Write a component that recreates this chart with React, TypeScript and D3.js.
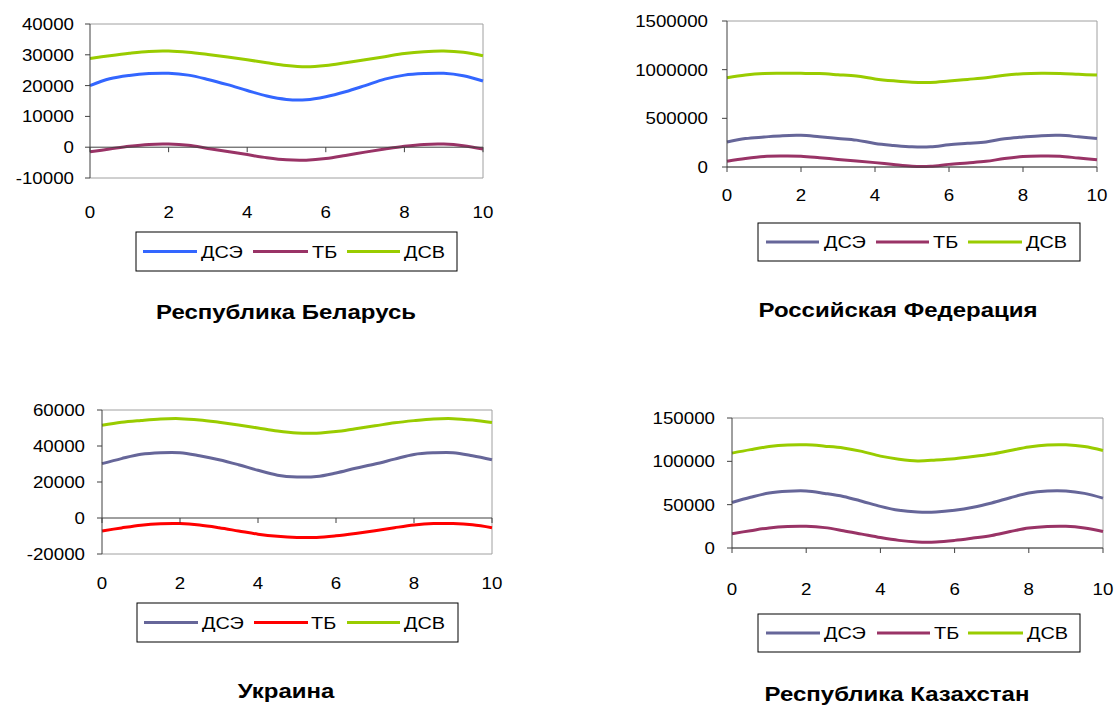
import React from 'react';
import * as d3 from 'd3';

const xs = [0, 0.5, 1, 1.5, 2, 2.5, 3, 3.5, 4, 4.5, 5, 5.5, 6, 6.5, 7, 7.5, 8, 8.5, 9, 9.5, 10];
const xTicks = [0, 2, 4, 6, 8, 10];
const seriesNames = ['ДСЭ', 'ТБ', 'ДСВ'];

// Республика Беларусь
const belarusDSE = [20000, 22200, 23300, 23900, 24000, 23400, 22000, 20300, 18400, 16600, 15500, 15400, 16400, 18000, 20000, 22100, 23400, 23900, 24000, 23200, 21500];
const belarusTB = [-1500, -600, 300, 900, 1000, 600, -400, -1400, -2400, -3400, -4100, -4200, -3700, -2700, -1600, -600, 300, 900, 1000, 500, -600];
const belarusDSV = [28800, 29700, 30500, 31100, 31200, 30800, 30100, 29300, 28400, 27400, 26500, 26100, 26500, 27400, 28400, 29400, 30400, 31000, 31200, 30800, 29700];
const belarusYTicks = [-10000, 0, 10000, 20000, 30000, 40000];

// Российская Федерация
const russiaDSE = [257000, 292000, 308000, 322000, 325000, 310000, 293000, 276000, 242000, 222000, 207000, 207000, 228000, 243000, 258000, 290000, 308000, 322000, 325000, 310000, 292000];
const russiaTB = [60000, 88000, 108000, 112000, 110000, 95000, 78000, 62000, 45000, 25000, 8000, 8000, 27000, 42000, 58000, 87000, 107000, 112000, 110000, 92000, 75000];
const russiaDSV = [917000, 945000, 960000, 962000, 962000, 960000, 948000, 934000, 905000, 885000, 870000, 868000, 883000, 900000, 917000, 942000, 958000, 962000, 960000, 952000, 944000];
const russiaYTicks = [0, 500000, 1000000, 1500000];

// Украина
const ukraineDSE = [30200, 33000, 35400, 36300, 36300, 34600, 32400, 29600, 26500, 23800, 22800, 23000, 25000, 27600, 30000, 32700, 35300, 36200, 36300, 34600, 32400];
const ukraineTB = [-7200, -5500, -4000, -3200, -3100, -3900, -5400, -7200, -9000, -10200, -10800, -10800, -9900, -8600, -7100, -5400, -3900, -3100, -3100, -3800, -5400];
const ukraineDSV = [51500, 53200, 54200, 55000, 55200, 54500, 53200, 51700, 50000, 48300, 47200, 47100, 48000, 49600, 51200, 52900, 54100, 55000, 55200, 54400, 53000];
const ukraineYTicks = [-20000, 0, 20000, 40000, 60000];

// Республика Казахстан
const kazDSE = [52500, 58500, 63500, 65500, 65800, 63000, 59500, 54000, 48000, 43500, 41500, 41500, 43500, 47000, 52000, 58000, 63500, 65800, 65800, 63000, 57500];
const kazTB = [16500, 20000, 23200, 24800, 25000, 23500, 20000, 16000, 12000, 8800, 7000, 7000, 8800, 11500, 14500, 19000, 23000, 24800, 25000, 23000, 19000];
const kazDSV = [109500, 113500, 117000, 118800, 119000, 117500, 115500, 111500, 106000, 102500, 100500, 101500, 103000, 105500, 108500, 112500, 116500, 118800, 119000, 117000, 112500];
const kazYTicks = [0, 50000, 100000, 150000];

const FONT = 'Liberation Sans, Arial, sans-serif';
const SX = 1.17;

function T({ x, y, anchor = 'start', size = 16, weight = 400, children }: any) {
  return (
    <text
      transform={`translate(${x},${y}) scale(${SX},1)`}
      textAnchor={anchor}
      fontSize={size}
      fontWeight={weight}
      fontFamily={FONT}
      fill="#000"
    >
      {children}
    </text>
  );
}

type PanelCfg = {
  title: string;
  series: number[][];
  colors: string[];
  yTicks: number[];
  plot: { l: number; r: number; t: number; b: number };
  xLabelY: number;
  yLabelRight: number;
  legend: { l: number; r: number; t: number; b: number; items: number[][] };
  titlePos: { x: number; y: number };
};

function Panel({ cfg }: { cfg: PanelCfg }) {
  const { plot } = cfg;
  const x = d3.scaleLinear().domain([0, 10]).range([plot.l, plot.r]);
  const y = d3
    .scaleLinear()
    .domain([d3.min(cfg.yTicks)!, d3.max(cfg.yTicks)!])
    .range([plot.b, plot.t]);
  const line = d3
    .line<number>()
    .x((_, i) => x(xs[i]))
    .y((d) => y(d))
    .curve(d3.curveCatmullRom.alpha(0.5));
  const y0 = y(0);
  const axisCol = '#404040';
  const borderCol = '#a0a0a0';
  const ly = (cfg.legend.t + cfg.legend.b) / 2;
  return (
    <g>
      {/* plot border */}
      <line x1={plot.l} x2={plot.r} y1={plot.t} y2={plot.t} stroke={borderCol} />
      <line x1={plot.r} x2={plot.r} y1={plot.t} y2={plot.b} stroke={borderCol} />
      <line x1={plot.l} x2={plot.r} y1={plot.b} y2={plot.b} stroke={borderCol} />
      {/* series */}
      {cfg.series.map((s, i) => (
        <path key={i} d={line(s) || ''} fill="none" stroke={cfg.colors[i]} strokeWidth={3} strokeLinejoin="round" />
      ))}
      {/* y axis */}
      <line x1={plot.l} x2={plot.l} y1={plot.t} y2={plot.b} stroke={axisCol} />
      {cfg.yTicks.map((t) => (
        <g key={t}>
          <line x1={plot.l - 5} x2={plot.l} y1={y(t)} y2={y(t)} stroke={axisCol} />
          <T x={cfg.yLabelRight} y={y(t) + 6} anchor="end">
            {t}
          </T>
        </g>
      ))}
      {/* x axis at 0 */}
      <line x1={plot.l} x2={plot.r} y1={y0} y2={y0} stroke={axisCol} />
      {xTicks.map((t) => (
        <g key={t}>
          <line x1={x(t)} x2={x(t)} y1={y0} y2={y0 + 5} stroke={axisCol} />
          <T x={x(t)} y={cfg.xLabelY} anchor="middle">
            {t}
          </T>
        </g>
      ))}
      {/* legend */}
      <rect
        x={cfg.legend.l}
        y={cfg.legend.t}
        width={cfg.legend.r - cfg.legend.l}
        height={cfg.legend.b - cfg.legend.t}
        fill="#fff"
        stroke="#000"
      />
      {cfg.legend.items.map((it, i) => (
        <g key={i}>
          <line x1={it[0]} x2={it[1]} y1={ly} y2={ly} stroke={cfg.colors[i]} strokeWidth={3} />
          <T x={it[2]} y={ly + 6} size={17}>
            {seriesNames[i]}
          </T>
        </g>
      ))}
      <T x={cfg.titlePos.x} y={cfg.titlePos.y} anchor="middle" size={20.5} weight={700}>
        {cfg.title}
      </T>
    </g>
  );
}

const panels: PanelCfg[] = [
  {
    title: 'Республика Беларусь',
    series: [belarusDSE, belarusTB, belarusDSV],
    colors: ['#3366ff', '#993366', '#99cc00'],
    yTicks: belarusYTicks,
    plot: { l: 90, r: 483, t: 24, b: 178 },
    xLabelY: 218,
    yLabelRight: 74,
    legend: { l: 136, r: 457, t: 232, b: 271, items: [[143, 197, 201], [253, 308, 312], [347, 400, 404]] },
    titlePos: { x: 286, y: 319 },
  },
  {
    title: 'Российская  Федерация',
    series: [russiaDSE, russiaTB, russiaDSV],
    colors: ['#666699', '#993366', '#99cc00'],
    yTicks: russiaYTicks,
    plot: { l: 727, r: 1097, t: 21, b: 167 },
    xLabelY: 201,
    yLabelRight: 708,
    legend: { l: 758, r: 1080, t: 223, b: 261, items: [[766, 819, 824], [876, 929, 933], [968, 1022, 1026]] },
    titlePos: { x: 898, y: 317 },
  },
  {
    title: 'Украина',
    series: [ukraineDSE, ukraineTB, ukraineDSV],
    colors: ['#666699', '#ff0000', '#99cc00'],
    yTicks: ukraineYTicks,
    plot: { l: 102, r: 492, t: 410, b: 554 },
    xLabelY: 589,
    yLabelRight: 85,
    legend: { l: 137, r: 458, t: 603, b: 642, items: [[144, 198, 202], [254, 308, 311], [347, 400, 404]] },
    titlePos: { x: 286, y: 698 },
  },
  {
    title: 'Республика Казахстан',
    series: [kazDSE, kazTB, kazDSV],
    colors: ['#666699', '#993366', '#99cc00'],
    yTicks: kazYTicks,
    plot: { l: 732, r: 1103, t: 418, b: 548 },
    xLabelY: 595,
    yLabelRight: 715,
    legend: { l: 758, r: 1080, t: 614, b: 652, items: [[766, 820, 824], [877, 930, 934], [968, 1023, 1027]] },
    titlePos: { x: 897, y: 701 },
  },
];

export default function App() {
  return (
    <svg
      width={1116}
      height={706}
      style={{ position: 'absolute', left: 0, top: 0, background: '#fff' }}
    >
      <rect width={1116} height={706} fill="#fff" />
      {panels.map((p) => (
        <Panel key={p.title} cfg={p} />
      ))}
    </svg>
  );
}
